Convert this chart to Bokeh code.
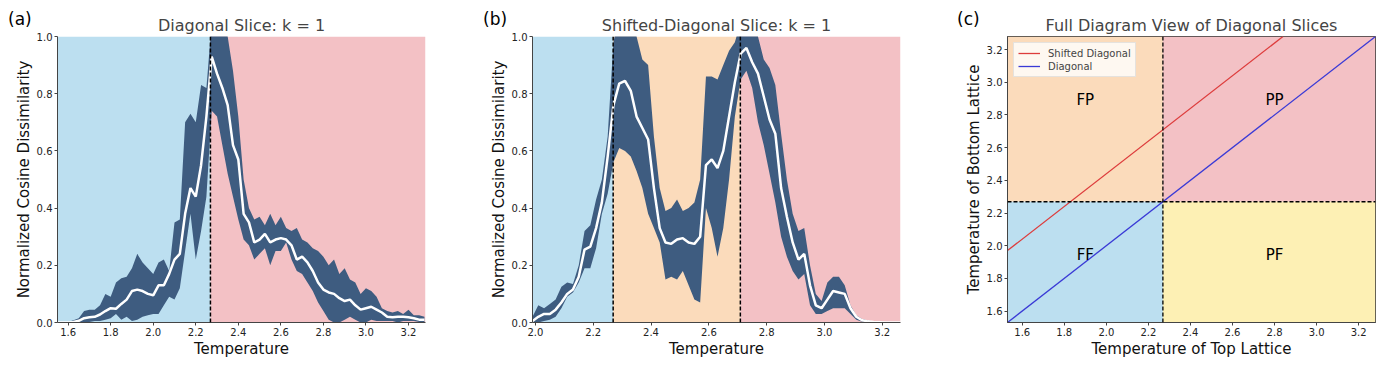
from bokeh.plotting import figure
from bokeh.layouts import row
from bokeh.models import Range1d, Span, Legend, LegendItem, NumeralTickFormatter, Div
from bokeh.core.properties import value
from bokeh.embed import file_html
from bokeh.resources import INLINE

FONT = "DejaVu Sans"
TC = 2.269
SHIFT = 0.44

FF_COLOR = "#bcdff0"
PP_COLOR = "#f3c1c5"
FP_COLOR = "#fbdbbb"
PF_COLOR = "#fdf0b4"
BAND = "#3e5c80"

# ---------------- Panel (a): diagonal slice ----------------
temps_a = [1.550, 1.575, 1.600, 1.625, 1.650, 1.675, 1.700, 1.725, 1.750, 1.775,
           1.800, 1.825, 1.850, 1.875, 1.900, 1.925, 1.950, 1.975, 2.000, 2.025,
           2.050, 2.075, 2.100, 2.125, 2.150, 2.175, 2.200, 2.225, 2.250, 2.275,
           2.300, 2.325, 2.350, 2.375, 2.400, 2.425, 2.450, 2.475, 2.500, 2.525,
           2.550, 2.575, 2.600, 2.625, 2.650, 2.675, 2.700, 2.725, 2.750, 2.775,
           2.800, 2.825, 2.850, 2.875, 2.900, 2.925, 2.950, 2.975, 3.000, 3.025,
           3.050, 3.075, 3.100, 3.125, 3.150, 3.175, 3.200, 3.225, 3.250, 3.275]
mean_a = [0.0, 0.0, 0.0, 0.002, 0.006, 0.015, 0.018, 0.02, 0.028, 0.04,
          0.05, 0.048, 0.065, 0.08, 0.11, 0.115, 0.11, 0.10, 0.095, 0.13,
          0.13, 0.17, 0.22, 0.24, 0.38, 0.47, 0.44, 0.55, 0.72, 0.93,
          0.87, 0.82, 0.76, 0.62, 0.57, 0.38, 0.35, 0.28, 0.29, 0.31,
          0.28, 0.29, 0.295, 0.29, 0.27, 0.22, 0.23, 0.21, 0.18, 0.14,
          0.115, 0.105, 0.10, 0.085, 0.075, 0.08, 0.06, 0.045, 0.05, 0.055,
          0.045, 0.035, 0.02, 0.018, 0.02, 0.02, 0.018, 0.015, 0.01, 0.01]
upper_a = [0.0, 0.0, 0.002, 0.008, 0.015, 0.04, 0.045, 0.045, 0.06, 0.10,
           0.09, 0.14, 0.155, 0.16, 0.19, 0.24, 0.21, 0.19, 0.17, 0.21,
           0.22, 0.18, 0.35, 0.36, 0.70, 0.73, 0.70, 0.83, 0.82, 1.05,
           1.08, 1.08, 1.00, 0.88, 0.72, 0.50, 0.40, 0.36, 0.37, 0.34,
           0.38, 0.34, 0.37, 0.33, 0.32, 0.33, 0.29, 0.28, 0.26, 0.25,
           0.23, 0.20, 0.22, 0.17, 0.19, 0.15, 0.14, 0.10, 0.12, 0.11,
           0.09, 0.05, 0.04, 0.035, 0.04, 0.03, 0.045, 0.025, 0.025, 0.02]
lower_a = [0.0, 0.0, 0.0, 0.0, 0.0, 0.0, 0.002, 0.005, 0.005, 0.01,
           0.015, 0.03, 0.01, 0.02, 0.005, 0.01, 0.02, 0.025, 0.03, 0.03,
           0.06, 0.09, 0.08, 0.12, 0.25, 0.38, 0.22, 0.32, 0.44, 0.74,
           0.72, 0.62, 0.52, 0.44, 0.36, 0.29, 0.27, 0.22, 0.24, 0.26,
           0.20, 0.25, 0.25, 0.28, 0.22, 0.18, 0.17, 0.14, 0.11, 0.07,
           0.04, 0.01, 0.0, 0.0, 0.01, 0.02, 0.01, 0.0, 0.0, 0.01,
           0.005, 0.005, 0.005, 0.005, 0.0, 0.005, 0.005, 0.005, 0.002, 0.002]

# ---------------- Panel (b): shifted-diagonal slice ----------------
temps_b = [1.99, 2.01, 2.03, 2.05, 2.07, 2.09, 2.11, 2.13, 2.15, 2.17,
           2.19, 2.21, 2.23, 2.25, 2.27, 2.29, 2.31, 2.33, 2.35, 2.37,
           2.39, 2.41, 2.43, 2.45, 2.47, 2.49, 2.51, 2.53, 2.55, 2.57,
           2.59, 2.61, 2.63, 2.65, 2.67, 2.69, 2.71, 2.73, 2.75, 2.77,
           2.79, 2.81, 2.83, 2.85, 2.87, 2.89, 2.91, 2.93, 2.95, 2.97,
           2.99, 3.01, 3.03, 3.05, 3.07, 3.09, 3.11, 3.13, 3.15, 3.17,
           3.19, 3.21, 3.23, 3.25, 3.27]
mean_b = [0.005, 0.02, 0.03, 0.03, 0.045, 0.07, 0.10, 0.115, 0.16, 0.255,
          0.265, 0.33, 0.42, 0.58, 0.76, 0.835, 0.845, 0.81, 0.72, 0.68,
          0.64, 0.47, 0.33, 0.28, 0.275, 0.29, 0.295, 0.28, 0.275, 0.30,
          0.55, 0.57, 0.54, 0.60, 0.72, 0.84, 0.94, 0.96, 0.91, 0.87,
          0.79, 0.71, 0.66, 0.47, 0.37, 0.28, 0.22, 0.24, 0.13, 0.06,
          0.05, 0.08, 0.11, 0.105, 0.10, 0.05, 0.02, 0.008, 0.004, 0.002,
          0.001, 0.0, 0.0, 0.0, 0.0]
upper_b = [0.02, 0.06, 0.05, 0.065, 0.08, 0.125, 0.14, 0.135, 0.20, 0.32,
           0.34, 0.43, 0.50, 0.65, 0.98, 1.08, 1.10, 1.10, 1.00, 0.92,
           0.90, 0.65, 0.47, 0.39, 0.40, 0.43, 0.39, 0.40, 0.42, 0.50,
           0.86, 0.86, 0.85, 0.90, 0.95, 0.98, 1.05, 1.10, 1.05, 1.00,
           0.92, 0.89, 0.83, 0.66, 0.50, 0.38, 0.32, 0.33, 0.20, 0.10,
           0.075, 0.14, 0.16, 0.16, 0.13, 0.06, 0.025, 0.012, 0.007, 0.004,
           0.002, 0.001, 0.0, 0.0, 0.0]
lower_b = [0.0, 0.0, 0.005, 0.01, 0.02, 0.05, 0.09, 0.105, 0.14, 0.19,
           0.19, 0.26, 0.38, 0.45, 0.56, 0.61, 0.60, 0.58, 0.53, 0.47,
           0.38, 0.33, 0.28, 0.15, 0.16, 0.15, 0.18, 0.13, 0.08, 0.07,
           0.40, 0.33, 0.23, 0.33, 0.50, 0.72, 0.85, 0.88, 0.82, 0.70,
           0.62, 0.52, 0.42, 0.30, 0.23, 0.18, 0.15, 0.17, 0.06, 0.03,
           0.03, 0.04, 0.05, 0.05, 0.05, 0.03, 0.01, 0.003, 0.001, 0.0,
           0.0, 0.0, 0.0, 0.0, 0.0]

temp_ticks = [1.6, 1.8, 2.0, 2.2, 2.4, 2.6, 2.8, 3.0, 3.2]
dis_ticks = [0.0, 0.2, 0.4, 0.6, 0.8, 1.0]
phase_labels = ["FP", "PP", "FF", "PF"]
phase_label_x = [1.9, 2.8, 1.9, 2.8]
phase_label_y = [2.89, 2.89, 1.94, 1.94]
panel_names = ["(a)", "(b)", "(c)"]

H = 365
TOP = 36
BOTTOM = 43


def style(p, box=False):
    p.grid.visible = False
    p.outline_line_color = "#333333" if box else None
    for ax in (p.xaxis[0], p.yaxis[0]):
        ax.axis_line_color = "#444444"
        ax.major_tick_line_color = "#444444"
        ax.major_tick_out = 3
        ax.major_tick_in = 0
        ax.minor_tick_line_color = None
        ax.major_label_text_font = FONT
        ax.major_label_text_font_size = "10px"
        ax.major_label_text_color = "#222222"
        ax.axis_label_text_font = FONT
        ax.axis_label_text_font_size = "15px"
        ax.axis_label_text_font_style = "normal"
        ax.axis_label_text_color = "#111111"
        ax.major_label_standoff = 2
    p.xaxis[0].axis_label_standoff = 1
    p.yaxis[0].axis_label_standoff = 1
    p.xaxis[0].ticker = temp_ticks
    p.xaxis[0].formatter = NumeralTickFormatter(format="0.0")
    p.yaxis[0].formatter = NumeralTickFormatter(format="0.0")
    p.title.text_font = FONT
    p.title.text_font_size = "16px"
    p.title.text_font_style = "normal"
    p.title.align = "center"
    p.title.standoff = 3
    p.background_fill_color = "white"


def slice_panel(temps, mean, lo, hi, xr, bounds, colors, title, width, lb, rb):
    p = figure(width=width, height=H, x_range=Range1d(*xr), y_range=Range1d(0, 1),
               output_backend="svg", toolbar_location=None, title=title,
               min_border_left=lb, min_border_right=rb, min_border_top=TOP, min_border_bottom=BOTTOM,
               x_axis_label="Temperature", y_axis_label="Normalized Cosine Dissimilarity")
    p.quad(left=bounds[:-1], right=bounds[1:], bottom=0, top=1, color=colors, line_width=0)
    p.varea(x=temps, y1=lo, y2=hi, color=BAND)
    p.line(temps, mean, color="white", line_width=2.5)
    for t in bounds[1:-1]:
        p.add_layout(Span(location=t, dimension="height", line_color="black",
                          line_dash="4 2", line_width=1.5))
    style(p)
    p.yaxis[0].ticker = dis_ticks
    return p


def panel_div(txt, left):
    return Div(text=txt, width=30, height=22,
               styles={"position": "absolute", "left": f"{left}px", "top": "8px",
                       "font-family": FONT, "font-size": "17px", "color": "black",
                       "line-height": "22px", "margin": "0"})


xa = (1.55, 3.28)
pa = slice_panel(temps_a, mean_a, lower_a, upper_a, xa, [xa[0], TC, xa[1]],
                 [FF_COLOR, PP_COLOR], "Diagonal Slice: k = 1", 460, 57, 35)

xb = (1.99, 3.263)
pb = slice_panel(temps_b, mean_b, lower_b, upper_b, xb, [xb[0], TC, TC + SHIFT, xb[1]],
                 [FF_COLOR, FP_COLOR, PP_COLOR], "Shifted-Diagonal Slice: k = 1", 460, 72, 20)

# ---------------- Panel (c): full diagram ----------------
lim = (1.53, 3.28)
pc = figure(width=467, height=H, x_range=Range1d(*lim), y_range=Range1d(*lim),
            output_backend="svg", toolbar_location=None,
            title="Full Diagram View of Diagonal Slices",
            min_border_left=87, min_border_right=12, min_border_top=TOP, min_border_bottom=BOTTOM,
            x_axis_label="Temperature of Top Lattice", y_axis_label="Temperature of Bottom Lattice")
pc.quad(left=[lim[0], TC, lim[0], TC], right=[TC, lim[1], TC, lim[1]],
        bottom=[TC, TC, lim[0], lim[0]], top=[lim[1], lim[1], TC, TC],
        color=[FP_COLOR, PP_COLOR, FF_COLOR, PF_COLOR], line_width=0)
r_red = pc.line([lim[0], lim[1] - SHIFT], [lim[0] + SHIFT, lim[1]], color="#dd3c3c", line_width=1.3)
r_blue = pc.line([lim[0], lim[1]], [lim[0], lim[1]], color="#3a3ad6", line_width=1.3)
pc.add_layout(Span(location=TC, dimension="height", line_color="black", line_dash="4 2", line_width=1.3))
pc.add_layout(Span(location=TC, dimension="width", line_color="black", line_dash="4 2", line_width=1.3))
pc.text(x=phase_label_x, y=phase_label_y, text=phase_labels, text_align="center",
        text_baseline="middle", text_font=value(FONT), text_font_size="15px", text_color="black")
style(pc, box=True)
pc.yaxis[0].ticker = temp_ticks
leg = Legend(items=[LegendItem(label="Shifted Diagonal", renderers=[r_red]),
                    LegendItem(label="Diagonal", renderers=[r_blue])],
             location="top_left", label_text_font=FONT, label_text_font_size="10px",
             glyph_width=22, glyph_height=12, label_height=12, spacing=1, padding=4,
             margin=6, border_line_color="#cccccc", background_fill_alpha=0.8,
             label_standoff=8)
pc.add_layout(leg)

layout = row(pa, pb, pc, panel_div(panel_names[0], 8), panel_div(panel_names[1], 483),
             panel_div(panel_names[2], 957))
open("out.html", "w").write(file_html(layout, INLINE))
